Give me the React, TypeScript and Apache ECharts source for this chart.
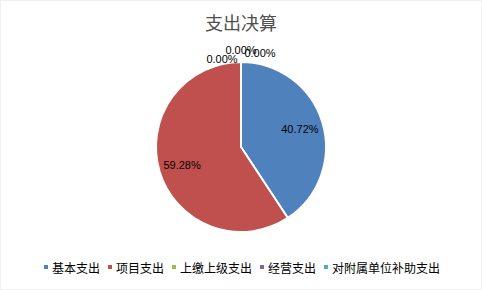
import React, { useEffect, useRef } from "react";
import * as echarts from "echarts";

const categories = ["基本支出", "项目支出", "上缴上级支出", "经营支出", "对附属单位补助支出"];
const values = [40.72, 59.28, 0, 0, 0];
const colors = ["#4F81BD", "#C0504D", "#9BBB59", "#8064A2", "#4BACC6"];
const titleText = "支出决算";

export default function App() {
  const ref = useRef<HTMLDivElement>(null);
  useEffect(() => {
    if (!ref.current) return;
    const chart = echarts.init(ref.current, null, { renderer: "svg" });
    const labelFont = { fontFamily: "Liberation Sans, Arial, sans-serif", fontSize: 11, color: "#000" };
    const fmt = (p: any) => Number(p.percent || 0).toFixed(2) + "%";
    // relative offsets (from pie center) for the stacked zero-value labels
    const zeroOffsets: Record<number, [number, number]> = { 2: [-19, -88], 3: [0, -97], 4: [19, -94] };
    chart.setOption({
      animation: false,
      backgroundColor: "#fff",
      color: colors,
      title: {
        text: titleText,
        left: "center",
        top: 7,
        textStyle: { fontFamily: "Noto Sans CJK SC", fontSize: 18, fontWeight: "normal", color: "#505050" },
      },
      legend: {
        bottom: 11,
        left: "center",
        icon: "rect",
        itemWidth: 6,
        itemHeight: 6,
        itemGap: 6,
        textStyle: { fontFamily: "Noto Sans CJK SC", fontSize: 12, color: "#000", padding: [0, 0, 0, -2] },
        data: categories,
      },
      series: [
        {
          type: "pie",
          center: [240, 146],
          radius: [0, 85],
          startAngle: 90,
          clockwise: true,
          itemStyle: { borderColor: "#fff", borderWidth: 2 },
          label: { show: false },
          labelLine: { show: false },
          emphasis: { disabled: true },
          labelLayout: (p: any) => {
            const o = zeroOffsets[p.dataIndex];
            if (!o) return {};
            return { x: 240 + o[0], y: 146 + o[1], align: "center", verticalAlign: "middle", hideOverlap: false };
          },
          data: categories.map((c, i) => ({
            name: c,
            value: values[i],
            label:
              values[i] === 0
                ? { show: true, position: "outside", formatter: fmt, ...labelFont }
                : { show: false },
          })),
        },
        {
          type: "pie",
          center: [240, 146],
          radius: [32, 85],
          startAngle: 90,
          clockwise: true,
          silent: true,
          legendHoverLink: false,
          itemStyle: { color: "transparent", borderWidth: 0 },
          label: { show: true, position: "inside", formatter: fmt, ...labelFont },
          labelLine: { show: false },
          emphasis: { disabled: true },
          data: categories.map((c, i) => ({
            name: c,
            value: values[i],
            label: { show: values[i] !== 0 },
          })),
        },
      ],
    });
    return () => chart.dispose();
  }, []);
  return (
    <div
      ref={ref}
      style={{ position: "fixed", left: 0, top: 0, width: 482, height: 290, boxSizing: "border-box", border: "1px solid #f0f0f0" }}
    />
  );
}
